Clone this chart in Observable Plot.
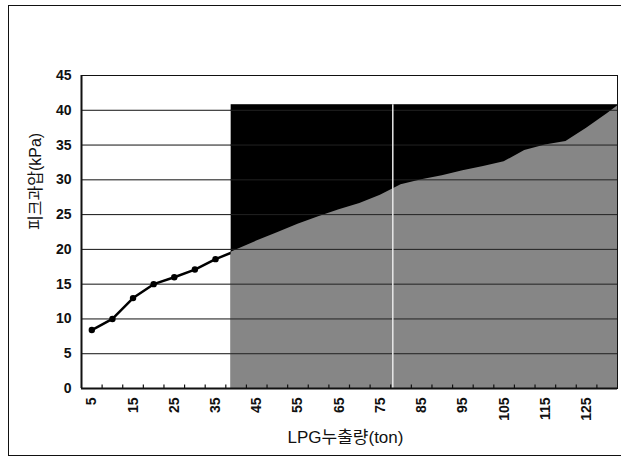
<!DOCTYPE html>
<html>
<head>
<meta charset="utf-8">
<script src="https://cdn.jsdelivr.net/npm/d3@7"></script>
<script src="https://cdn.jsdelivr.net/npm/@observablehq/plot@0.6"></script>
<style>
  html, body { margin: 0; padding: 0; background: #fff; }
  #wrap { position: relative; width: 621px; height: 465px; overflow: hidden; }
  #border { position: absolute; left: 8px; top: 5px; width: 640px; height: 451px; border: 1.5px solid #111; box-sizing: border-box; pointer-events: none; }
</style>
</head>
<body>
<div id="wrap"><div id="border"></div></div>
<script>
// Observed line (peak overpressure vs LPG leak amount)
const lineX = [5, 10, 15, 20, 25, 30, 35, 40];
const lineY = [8.4, 10, 13, 15, 16, 17.1, 18.6, 19.8];

// Shaded region: lower (grey) boundary curve
const areaX = [38.8, 40, 45, 50, 55, 60, 65, 70, 75, 80, 85, 90, 95, 100, 105, 110, 115, 120, 125, 130, 132.5];
const areaY = [19.6, 19.9, 21.2, 22.4, 23.6, 24.7, 25.7, 26.6, 27.8, 29.3, 30.0, 30.6, 31.3, 31.9, 32.6, 34.2, 35.0, 35.5, 37.4, 39.5, 40.6];

// Black band
const bandX1 = [38.8];
const bandX2 = [132.5];
const bandTop = [40.8];

// White separator line
const sepX = [78];

const yTicks = [0, 5, 10, 15, 20, 25, 30, 35, 40, 45];
const xTicks = [5, 15, 25, 35, 45, 55, 65, 75, 85, 95, 105, 115, 125];
const gridY = [5, 10, 15, 20, 25, 30, 35, 40];
const catBounds = d3.range(7.5, 132.5, 5);

const band = bandX1.map((x1, i) => ({x1, x2: bandX2[i], y1: 0, y2: bandTop[i]}));
const area = areaX.map((x, i) => ({x, y: areaY[i]}));
const line = lineX.map((x, i) => ({x, y: lineY[i]}));

const chart = Plot.plot({
  width: 621,
  height: 465,
  marginLeft: 81,
  marginRight: 4,
  marginTop: 75,
  marginBottom: 77,
  style: {fontFamily: "'Liberation Sans', Arial, 'Noto Sans CJK KR', sans-serif", fontSize: "14px", color: "#111", background: "transparent"},
  x: {domain: [2.5, 132.5]},
  y: {domain: [0, 45]},
  marks: [
    Plot.ruleY(gridY, {stroke: "#111", strokeWidth: 1}),
    Plot.line(line, {x: "x", y: "y", stroke: "#000", strokeWidth: 2.5}),
    Plot.dot(line, {x: "x", y: "y", r: 3.2, fill: "#000"}),
    Plot.rect(band, {x1: "x1", x2: "x2", y1: "y1", y2: "y2", fill: "#000"}),
    Plot.areaY(area, {x: "x", y: "y", fill: "#868686"}),
    Plot.ruleY(gridY, {x1: bandX1[0], x2: bandX2[0], stroke: "#222", strokeWidth: 1}),
    Plot.ruleX(sepX, {y1: 0, y2: bandTop[0], stroke: "#e8e8e8", strokeWidth: 1.5}),
    Plot.ruleX(catBounds, {y1: 0, y2: 0.5, stroke: "#111", strokeWidth: 1.2}),
    Plot.frame({stroke: "#111", strokeWidth: 1}),
    Plot.ruleY([0], {stroke: "#111", strokeWidth: 2}),
    Plot.ruleX([2.5], {stroke: "#111", strokeWidth: 2}),
    Plot.axisY({ticks: yTicks, tickSize: 0, tickPadding: 10, fontSize: 14, fontWeight: "bold",
      label: null}),
    Plot.axisX({ticks: xTicks, tickSize: 0, tickPadding: 9, tickRotate: -90, fontSize: 14, fontWeight: "bold",
      label: null}),
    Plot.text(["피크과압(kPa)"], {frameAnchor: "left", dx: -46, dy: -2, rotate: -90, fontSize: 16, fill: "#111"}),
    Plot.text(["LPG누출량(ton)"], {frameAnchor: "bottom", dx: -4, dy: 54, fontSize: 17, fill: "#111"})
  ]
});
document.getElementById("wrap").appendChild(chart);
chart.style.position = "absolute";
chart.style.left = "0";
chart.style.top = "0";
</script>
</body>
</html>
